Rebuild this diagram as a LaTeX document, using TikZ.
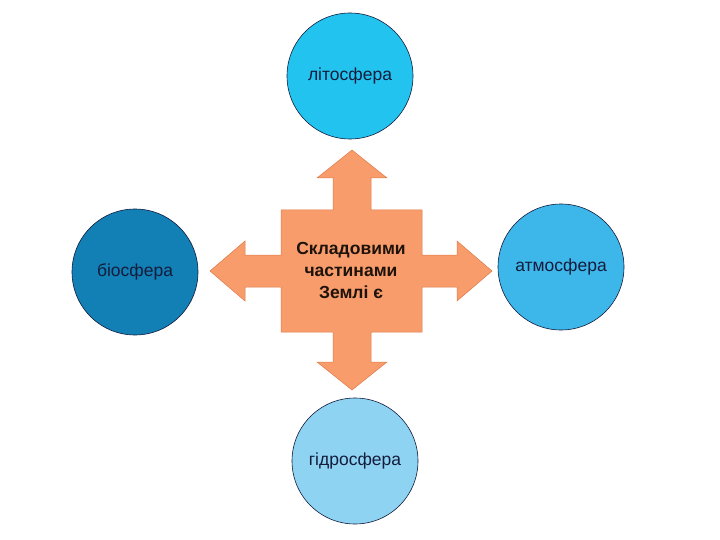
\documentclass[tikz,border=0pt]{standalone}
\usepackage{fontspec}
\setmainfont{Liberation Sans}
\definecolor{litho}{HTML}{22C4EF}
\definecolor{bio}{HTML}{127FB5}
\definecolor{atmo}{HTML}{3DB7EA}
\definecolor{hydro}{HTML}{8FD3F2}
\definecolor{crossfill}{HTML}{F89C6C}
\definecolor{crossline}{HTML}{E07A48}
\definecolor{txtnavy}{HTML}{141C3C}
\begin{document}
\begin{tikzpicture}[x=1pt,y=-1pt,
  sphere/.style={circle,draw=txtnavy,line width=0.6pt,minimum size=126pt,inner sep=0pt,
    font=\fontsize{17.5}{20}\selectfont,text=txtnavy},
  crossshape/.style={fill=crossfill,draw=crossline,line width=0.5pt,line join=miter},
  centertext/.style={align=center,font=\bfseries\fontsize{17.5}{22}\selectfont,text=black!85!brown}]
\useasboundingbox (0,0) rectangle (720,540);
\node[sphere,fill=litho] (lit) at (350,76) {літосфера};
\node[sphere,fill=bio] (bio) at (135,272) {біосфера};
\node[sphere,fill=atmo] (atm) at (561,267) {атмосфера};
\node[sphere,fill=hydro] (hyd) at (355,461) {гідросфера};
\draw[crossshape] (352,150) -- (387,178) -- (371,178) -- (371,210) -- (422,210) -- (422,255)
  -- (457,255) -- (457,241) -- (492,271) -- (457,301) -- (457,287) -- (422,287) -- (422,332)
  -- (371,332) -- (371,362) -- (387,362) -- (352,390) -- (317,362) -- (333,362) -- (333,332)
  -- (281,332) -- (281,287) -- (245,287) -- (245,301) -- (210,271) -- (245,241) -- (245,255)
  -- (281,255) -- (281,210) -- (333,210) -- (333,178) -- (317,178) -- cycle;
\node[centertext] (ctr) at (351,270) {Складовими\\частинами\\Землі є};
\end{tikzpicture}
\end{document}
